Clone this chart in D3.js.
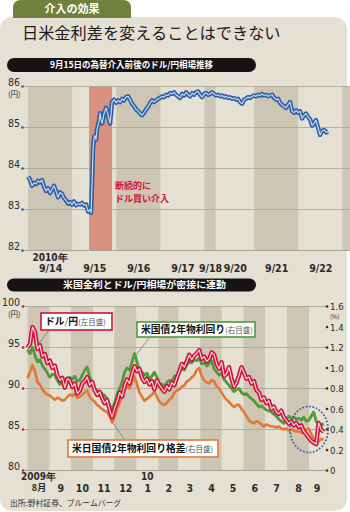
<!DOCTYPE html>
<html><head><meta charset="utf-8">
<script src="https://cdn.jsdelivr.net/npm/d3@7"></script>
<style>body{margin:0;background:#fff}svg{display:block}</style>
</head><body><svg id="c" width="350" height="512"></svg>
<script>
// ---------- data: 9/14–9/22 USD/JPY (hours counted from 9/14 00:00 on the session axis)
const fxHours = [0,1.1,2.2,3.3,4.4,5.4,6.5,7.6,8.7,9.8,10.9,12.0,13.1,14.1,15.2,16.3,17.4,18.5,19.6,20.7,21.8,22.9,23.9,25.0,26.1,27.2,28.3,29.4,30.5,31.6,32.7,33.7,34.3,34.8,35.4,35.9,36.4,37.0,37.5,38.6,39.2,39.7,40.3,41.4,42.5,43.5,44.6,45.2,45.7,46.8,47.9,49.0,50.1,51.2,52.2,53.3,54.4,55.5,56.6,57.7,58.8,59.9,61.0,62.0,63.1,64.2,65.3,66.4,67.5,68.6,69.7,70.7,71.8,72.9,74.0,75.1,76.2,77.3,78.4,79.5,80.5,81.6,82.7,83.8,84.9,86.0,87.1,88.2,89.3,90.3,91.4,92.5,93.6,94.7,95.8,96.9,98.0,99.0,100.1,101.2,102.3,103.4,104.5,105.6,106.7,107.8,108.8,109.9,111.0,112.1,113.2,114.3,115.4,116.5,117.6,118.6,119.7,120.8,121.9,123.0,124.1,125.2,126.3,127.3,128.4,129.5,130.6,131.7,132.8,133.9,135.0,136.1,137.1,138.2,139.3,140.4,141.5,142.6,143.7,144.8,145.9,147.0,148.0,149.1,150.2,151.3,152.4,153.5,154.6,155.6,156.7,157.8,158.9,160.0,161.1,162.2,163.3];
const fxRates = [83.80,83.72,83.58,83.65,83.62,83.70,83.66,83.72,83.55,83.45,83.52,83.40,83.50,83.58,83.45,83.30,83.42,83.38,83.28,83.22,83.14,83.18,83.12,83.20,83.10,83.14,83.12,83.16,83.10,83.12,82.95,83.00,82.92,83.60,84.50,84.75,84.80,84.70,84.95,85.15,85.35,85.20,85.10,85.35,85.48,85.30,85.10,85.35,85.62,85.68,85.60,85.66,85.62,85.70,85.66,85.74,85.76,85.68,85.58,85.52,85.44,85.40,85.34,85.30,85.36,85.44,85.50,85.60,85.66,85.62,85.66,85.70,85.72,85.76,85.74,85.80,85.78,85.84,85.82,85.86,85.80,85.76,85.72,85.82,85.78,85.86,85.80,85.76,85.84,85.80,85.86,85.88,85.80,85.74,85.82,85.84,85.80,85.82,85.86,85.82,85.78,85.80,85.76,85.78,85.74,85.76,85.72,85.74,85.70,85.72,85.68,85.70,85.62,85.58,85.68,85.70,85.74,85.72,85.76,85.78,85.76,85.80,85.78,85.82,85.78,85.80,85.76,85.78,85.80,85.72,85.68,85.70,85.60,85.55,85.52,85.48,85.56,85.62,85.40,85.36,85.42,85.36,85.40,85.22,85.30,85.34,85.26,85.20,85.05,85.10,85.18,85.00,84.82,84.92,84.94,84.88,84.90];
const dayLabels = ["9/14","9/15","9/16","9/17","9/18","9/20","9/21","9/22",""];
const dayStartHours = [0,24,48,72,96,102,123,147,171];
const interventionHours = [33.2, 45.7];
const fxTicks = [82,83,84,85,86];

// ---------- data: Aug 2009 – Sep 2010, twice-weekly readings
const seriesStart = new Date(2009,7,1);
const usdJpy = [95.0,95.4,97.5,96.9,94.8,95.3,93.9,94.2,93.1,93.4,92.5,92.8,91.6,91.0,91.3,90.1,91.2,91.0,90.2,90.6,89.4,89.7,90.6,90.9,91.4,90.4,90.8,89.8,89.2,89.6,88.8,88.2,88.6,87.4,86.5,87.6,88.4,89.5,89.0,90.3,91.1,90.6,91.8,92.7,92.1,92.4,91.3,90.8,91.2,90.5,90.9,89.9,91.0,90.4,90.0,89.6,90.3,89.9,90.7,90.4,91.3,92.1,93.0,92.6,93.3,94.1,93.5,94.0,94.3,94.7,93.6,93.9,93.3,93.6,94.4,94.1,93.0,92.4,93.2,91.5,91.8,92.6,91.2,90.2,90.7,91.6,92.6,91.9,91.2,91.4,90.6,90.9,89.8,89.5,88.6,88.9,88.2,88.5,87.5,87.8,87.1,86.9,87.3,86.5,86.1,85.7,86.0,85.5,85.8,85.3,85.5,84.8,84.4,84.0,83.6,83.4,83.2,85.8,85.0,84.7];
const usYield2y = [1.18,1.14,1.20,1.12,1.06,1.08,1.02,0.99,0.95,0.91,0.94,0.93,0.88,0.84,0.86,0.82,0.88,0.91,0.89,0.92,0.87,0.88,0.93,0.98,1.01,0.91,0.86,0.80,0.78,0.77,0.75,0.73,0.70,0.64,0.60,0.66,0.74,0.80,0.86,0.96,1.00,0.98,1.06,1.14,1.06,0.98,0.96,0.93,0.95,0.89,0.92,0.96,0.91,0.85,0.84,0.82,0.86,0.88,0.87,0.92,0.93,0.96,0.99,0.98,1.03,1.06,1.05,1.08,1.07,1.10,1.04,1.05,1.02,1.04,1.07,0.99,0.96,0.93,0.95,0.89,0.86,0.83,0.80,0.77,0.79,0.80,0.76,0.74,0.75,0.72,0.70,0.68,0.65,0.62,0.63,0.61,0.59,0.58,0.57,0.55,0.53,0.50,0.48,0.46,0.50,0.53,0.51,0.52,0.50,0.51,0.49,0.52,0.48,0.49,0.53,0.57,0.48,0.46,0.44,0.46];
const spread2y = [0.90,0.96,1.03,0.97,0.86,0.84,0.79,0.76,0.74,0.73,0.71,0.69,0.71,0.70,0.68,0.69,0.72,0.74,0.73,0.75,0.71,0.72,0.74,0.76,0.78,0.72,0.69,0.67,0.64,0.62,0.60,0.58,0.57,0.53,0.47,0.52,0.60,0.66,0.72,0.79,0.82,0.80,0.86,0.92,0.84,0.76,0.72,0.68,0.70,0.72,0.74,0.77,0.72,0.67,0.65,0.64,0.66,0.69,0.71,0.76,0.78,0.79,0.82,0.83,0.87,0.88,0.91,0.93,0.98,1.00,0.92,0.88,0.86,0.85,0.88,0.87,0.82,0.80,0.76,0.72,0.69,0.67,0.64,0.62,0.64,0.64,0.60,0.57,0.53,0.49,0.47,0.46,0.48,0.47,0.45,0.43,0.45,0.44,0.43,0.43,0.42,0.43,0.41,0.40,0.41,0.39,0.40,0.39,0.38,0.38,0.37,0.37,0.40,0.41,0.36,0.31,0.29,0.28,0.31,0.30];
const monthLabels = ["8月","9","10","11","12","1","2","3","4","5","6","7","8","9"];
const yenTicks = [80,85,90,95,100];
const pctTicks = [0,0.2,0.4,0.6,0.8,1.0,1.2,1.4,1.6];

// ---------- styles
const C = {
  panel:"#e4e0d3", band:"#cdc6b4", grid:"#a9a292", salmon:"#d8917f",
  blue:"#2b5ea6", blueIn:"#c9d8ec", red:"#cf1239", redIn:"#f8d3da",
  green:"#4f9a3a", orange:"#e27833", tab:"#6f813c", ink:"#2a2a2a"
};
const NUM = "'Liberation Sans Narrow','DejaVu Sans Condensed',sans-serif";
const JP = "'Noto Sans CJK JP','Noto Sans',sans-serif";

const svg = d3.select("#c");

// panel + tab
svg.append("rect").attr("x",0).attr("y",17).attr("width",347).attr("height",494).attr("rx",12).attr("fill",C.panel);
svg.append("path").attr("d","M13,18 L13,8 Q13,0 21,0 L123,0 Q131,0 131,8 L131,18 Z").attr("fill",C.tab);
svg.append("text").attr("x",72).attr("y",13).attr("text-anchor","middle").attr("fill","#fff")
  .attr("font-family",JP).attr("font-weight",700).attr("font-size",11).text("介入の効果");
svg.append("text").attr("x",22).attr("y",39).attr("fill","#1a1a1a")
  .attr("font-family",JP).attr("font-weight",400).attr("font-size",16.2).text("日米金利差を変えることはできない");

function header(y, h, tx, label, len){
  svg.append("rect").attr("x",7).attr("y",y).attr("width",249).attr("height",h).attr("rx",h/2).attr("fill","#141414");
  svg.append("text").attr("x",tx).attr("y",y+h/2+3.3).attr("fill","#fff").attr("font-family",JP)
    .attr("font-weight",700).attr("font-size",9).attr("textLength",len).attr("lengthAdjust","spacingAndGlyphs").text(label);
}
header(58,14,50,"9月15日の為替介入前後のドル/円相場推移",163);
header(278.5,13,63,"米国金利とドル/円相場が密接に連動",163);

// ================= upper chart =================
const xH = d3.scaleLinear().domain([-3.3,175.2]).range([22,350]);
const yF = d3.scaleLinear().domain([82,86]).range([250.5,86.5]);
const up = svg.append("g");

const days = dayStartHours.map((s,i)=>({s, e: i<dayStartHours.length-1 ? dayStartHours[i+1] : xH.domain()[1], label: dayLabels[i], i}));
up.selectAll("rect.day").data(days.filter(d=>d.i%2===0)).join("rect")
  .attr("x",d=>xH(d.s)).attr("width",d=>xH(d.e)-xH(d.s))
  .attr("y",yF(86)).attr("height",yF(82)-yF(86)).attr("fill",C.band);
up.append("rect").attr("x",xH(interventionHours[0])).attr("width",xH(interventionHours[1])-xH(interventionHours[0]))
  .attr("y",yF(86)).attr("height",yF(82)-yF(86)).attr("fill",C.salmon);

up.selectAll("line.g").data(fxTicks).join("line")
  .attr("x1",22).attr("x2",350).attr("y1",d=>yF(d)).attr("y2",d=>yF(d))
  .attr("stroke",C.grid).attr("stroke-width",d=>d===82?1.1:0.8);

// y axis labels via d3 axis
const ayF = up.append("g").attr("transform","translate(21,0)")
  .call(d3.axisLeft(yF).tickValues(fxTicks).tickSize(0).tickPadding(1).tickFormat(d3.format("d")));
ayF.select(".domain").remove();
ayF.selectAll("text").attr("font-family",NUM).attr("font-size",10.5).attr("fill",C.ink).attr("dy","-0.05em");
up.selectAll("circle.t").data(fxTicks).join("circle").attr("cx",22.5).attr("cy",d=>yF(d)).attr("r",1.3).attr("fill",C.blue);
up.append("text").attr("x",8).attr("y",97).attr("font-family",JP).attr("font-size",7.5).attr("fill",C.ink).text("(円)");

// x labels
const axH = up.append("g").attr("transform","translate(0,265)")
  .call(d3.axisBottom(xH).tickValues(days.filter(d=>d.label).map(d=>(d.s+d.e)/2)).tickSize(0).tickPadding(0)
    .tickFormat((d,i)=>dayLabels[i]));
axH.select(".domain").remove();
axH.selectAll("text").attr("font-family",NUM).attr("font-weight",700).attr("font-size",10.5).attr("fill",C.ink);
up.append("text").attr("x",xH((dayStartHours[0]+dayStartHours[1])/2)).attr("y",261).attr("text-anchor","middle")
  .attr("font-family",NUM).attr("font-weight",700).attr("font-size",10).attr("fill",C.ink).text("2010年");

// blue line with light core
const fxPts = fxHours.map((h,i)=>[h,fxRates[i]]);
const lineF = d3.line().x(d=>xH(d[0])).y(d=>yF(d[1])).curve(d3.curveLinear);
up.append("path").datum(fxPts).attr("d",lineF).attr("fill","none").attr("stroke",C.blue).attr("stroke-width",4.4).attr("stroke-linejoin","round");
up.append("path").datum(fxPts).attr("d",lineF).attr("fill","none").attr("stroke",C.blueIn).attr("stroke-width",1.2).attr("stroke-linejoin","round");

up.append("text").attr("x",115).attr("y",188.5).attr("font-family",JP).attr("font-weight",700).attr("font-size",9).attr("fill",C.red).text("断続的に");
up.append("text").attr("x",115).attr("y",202).attr("font-family",JP).attr("font-weight",700).attr("font-size",9).attr("fill",C.red).text("ドル買い介入");

// ================= lower chart =================
const seriesEnd = new Date(2010,8,22);
const xM = d3.scaleTime().domain([seriesStart, seriesEnd]).range([27.5,324]);
const yL = d3.scaleLinear().domain([80,100]).range([470.5,306.5]);
const yP = d3.scaleLinear().domain([0,1.6]).range([470.5,306.5]);
const lo = svg.append("g");

const months = d3.timeMonth.range(seriesStart, d3.timeMonth.offset(seriesEnd,1)).map((m,i)=>({
  s:m, e: d3.min([d3.timeMonth.offset(m,1), seriesEnd]), i, label: monthLabels[i]}));
lo.selectAll("rect.m").data(months.filter(d=>d.i%2===0)).join("rect")
  .attr("x",d=>xM(d.s)).attr("width",d=>xM(d.e)-xM(d.s))
  .attr("y",yL(100)).attr("height",yL(80)-yL(100)).attr("fill",C.band);

lo.selectAll("line.g").data(yenTicks).join("line")
  .attr("x1",22).attr("x2",327).attr("y1",d=>yL(d)).attr("y2",d=>yL(d))
  .attr("stroke",C.grid).attr("stroke-width",d=>d===80?1.1:0.8);

const ayL = lo.append("g").attr("transform","translate(21,0)")
  .call(d3.axisLeft(yL).tickValues(yenTicks).tickSize(0).tickPadding(1).tickFormat(d3.format("d")));
ayL.select(".domain").remove();
ayL.selectAll("text").attr("font-family",NUM).attr("font-size",10.5).attr("fill",C.ink).attr("dy","-0.05em");
lo.selectAll("circle.l").data(yenTicks).join("circle").attr("cx",23).attr("cy",d=>yL(d)).attr("r",1.3).attr("fill",C.red);
lo.append("text").attr("x",8).attr("y",317).attr("font-family",JP).attr("font-size",7.5).attr("fill",C.ink).text("(円)");

const ayP = lo.append("g").attr("transform","translate(329,0)")
  .call(d3.axisRight(yP).tickValues(pctTicks).tickSize(0).tickPadding(1).tickFormat(d=>d===0?"0":d3.format(".1f")(d)));
ayP.select(".domain").remove();
ayP.selectAll("text").attr("font-family",NUM).attr("font-size",9.5).attr("fill",C.ink);
lo.selectAll("circle.r").data(pctTicks).join("circle").attr("cx",327).attr("cy",d=>yP(d)).attr("r",1.3).attr("fill","#333");
lo.append("text").attr("x",330).attr("y",319.3).attr("font-family",JP).attr("font-size",6).attr("fill",C.ink).text("(%)");

const axM = lo.append("g").attr("transform","translate(0,485)")
  .call(d3.axisBottom(xM).tickValues(months.map(d=>new Date((+d.s + +d.e)/2))).tickSize(0).tickPadding(0)
    .tickFormat((d,i)=>monthLabels[i]));
axM.select(".domain").remove();
axM.selectAll("text").attr("font-family",NUM).attr("font-weight",700).attr("font-size",10.5).attr("fill",C.ink);
axM.selectAll("text").filter((d,i)=>i===0).attr("font-family",JP).attr("font-size",9);
const midOf = i => xM(new Date((+months[i].s + +months[i].e)/2));
lo.append("text").attr("x",midOf(0)).attr("y",479.5).attr("text-anchor","middle").attr("font-family",NUM)
  .attr("font-weight",700).attr("font-size",10).attr("fill",C.ink).text("2009年");
lo.append("text").attr("x",midOf(5)).attr("y",479.5).attr("text-anchor","middle").attr("font-family",NUM)
  .attr("font-weight",700).attr("font-size",10).attr("fill",C.ink).text("10");

const dates = usdJpy.map((_,i)=>d3.timeHour.offset(seriesStart, i*84));
const lineYen = d3.line().x((d,i)=>xM(dates[i])).y(d=>yL(d));
const linePct = d3.line().x((d,i)=>xM(dates[i])).y(d=>yP(d));
lo.append("path").datum(spread2y).attr("d",linePct).attr("fill","none").attr("stroke",C.orange).attr("stroke-width",2.6).attr("stroke-linejoin","round");
lo.append("path").datum(usYield2y).attr("d",linePct).attr("fill","none").attr("stroke",C.green).attr("stroke-width",2.8).attr("stroke-linejoin","round");
lo.append("path").datum(usdJpy).attr("d",lineYen).attr("fill","none").attr("stroke",C.red).attr("stroke-width",4.4).attr("stroke-linejoin","round");
lo.append("path").datum(usdJpy).attr("d",lineYen).attr("fill","none").attr("stroke",C.redIn).attr("stroke-width",1.2).attr("stroke-linejoin","round");

// dotted ring around the latest readings
lo.append("ellipse").attr("cx",xM(new Date(2010,8,1))).attr("cy",yL(85)).attr("rx",19).attr("ry",23)
  .attr("fill","none").attr("stroke",C.blue).attr("stroke-width",1.7).attr("stroke-dasharray","1.7 1.7");

// callouts
function callout(x,y,w,h,color,main,sub,lead){
  lo.append("line").attr("x1",lead[0]).attr("y1",lead[1]).attr("x2",lead[2]).attr("y2",lead[3]).attr("stroke","#777").attr("stroke-width",0.8);
  lo.append("rect").attr("x",x).attr("y",y).attr("width",w).attr("height",h).attr("fill","#fff").attr("stroke",color).attr("stroke-width",1.6);
  const t = lo.append("text").attr("x",x+4).attr("y",y+h/2+3.5).attr("font-family",JP).attr("fill","#111");
  main.forEach(m=>t.append("tspan").attr("font-weight",m[1]?700:400).attr("font-size",m[1]?9.8:9.5).attr("fill",m[1]?"#111":"#666").text(m[0]));
  t.append("tspan").attr("font-size",7.5).attr("fill","#555").text(sub);
}
callout(41,313,71,17,C.red,[["ドル",1],["/",0],["円",1]],"(左目盛)",[49,330,37,346]);
callout(137,322,118,15,C.green,[["米国債2年物利回り",1]],"(右目盛)",[150,337,136,355]);
callout(68,440,150,17,C.orange,[["米日国債2年物利回り格差",1]],"(右目盛)",[113,423,125,440]);

svg.append("text").attr("x",10).attr("y",506).attr("font-family",JP).attr("font-size",7.8).attr("fill","#333").text("出所:野村証券、ブルームバーグ");
</script></body></html>
